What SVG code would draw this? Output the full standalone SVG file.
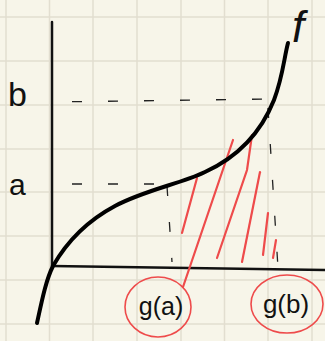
<svg xmlns="http://www.w3.org/2000/svg" width="325" height="341" viewBox="0 0 325 341">
<style>
.grid{stroke:#e2ded0;stroke-width:1.5}
.ax{stroke:#111;stroke-width:2.5;fill:none;stroke-linecap:round}
.crv{stroke:#000;stroke-width:4;fill:none;stroke-linecap:round;stroke-linejoin:round}
.dash{stroke:#222;stroke-width:1.3;fill:none;stroke-dasharray:10 26}
.red{stroke:#ee4b4b;stroke-width:2.2;fill:none;stroke-linecap:round}
.lbl{font-family:"Liberation Sans",sans-serif;fill:#111}
</style>
<rect width="325" height="341" fill="#f7f5e9"/>
<g id="grid">
<path class="grid" d="M6 0V341M49.5 0V341M93 0V341M137 0V341M181 0V341M224.5 0V341M268 0V341M312 0V341M0 17H325M0 61H325M0 105H325M0 149H325M0 192H325M0 236H325M0 280H325M0 324H325"/>
</g>
<g id="axes">
<path class="ax" d="M52 22V266"/>
<path class="ax" d="M52 266L325 270"/>
</g>
<g id="dashes">
<path class="dash" d="M52 102L270 99" stroke-dashoffset="-20"/>
<path class="dash" d="M52 184L167 184" stroke-dashoffset="-20"/>
<path class="dash" d="M167 186L172 262" stroke-dasharray="4 14"/>
<path class="dash" d="M268 108L278 268" stroke-dasharray="6 18"/>
</g>
<g id="hatch">
<path class="red" d="M233 140L183 287"/>
<path class="red" d="M252 135L247 170L217 258"/>
<path class="red" d="M197 178L182 233"/>
<path class="red" d="M260 172L242 262"/>
<path class="red" d="M268 213L263 255"/>
<path class="red" d="M276 240L273 258"/>
</g>
<g id="curve">
<path class="crv" d="M37 323C42 300 46 280 53 266C65 245 85 222 115 206C145 190 180 184 205 172C240 156 262 130 274 100C283 76 284 58 288 43"/>
</g>
<g id="labels">
<text class="lbl" x="8" y="106" font-size="34">b</text>
<text class="lbl" x="9" y="195" font-size="30">a</text>
<text class="lbl" x="292" y="42" font-size="44" font-style="italic">f</text>
</g>
<g id="ga">
<ellipse cx="158" cy="307" rx="33" ry="30" fill="none" stroke="#ee4b4b" stroke-width="1.6"/>
<text class="lbl" x="161" y="315" font-size="25" text-anchor="middle">g(a)</text>
</g>
<g id="gb">
<ellipse cx="287" cy="304" rx="36" ry="29" fill="none" stroke="#ee4b4b" stroke-width="1.6"/>
<text class="lbl" x="286" y="313" font-size="26" text-anchor="middle">g(b)</text>
</g>
</svg>
